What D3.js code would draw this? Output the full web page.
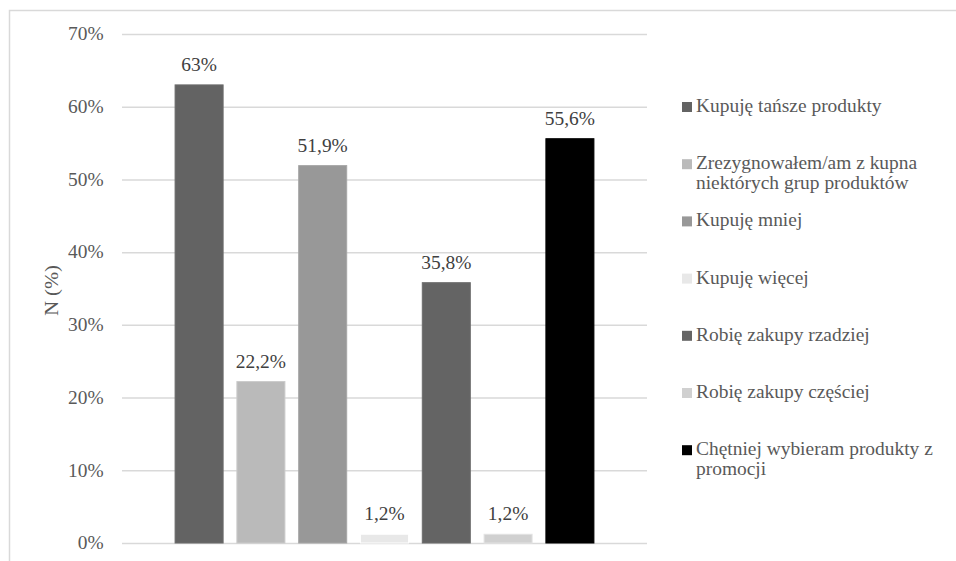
<!DOCTYPE html>
<html>
<head>
<meta charset="utf-8">
<script src="https://cdn.jsdelivr.net/npm/d3@7/dist/d3.min.js"></script>
<style>
  html, body { margin: 0; padding: 0; background: #fff; }
  svg { display: block; }
  svg text { font-family: 'Liberation Serif', Tinos, 'Times New Roman', Times, 'DejaVu Serif', serif !important; fill: #595959; }
</style>
</head>
<body>
<svg id="chart" width="956" height="561"></svg>
<script>
// Survey answers: how shopping habits changed (share of respondents)
const categories = [
  "Kupuję tańsze produkty",
  "Zrezygnowałem/am z kupna niektórych grup produktów",
  "Kupuję mniej",
  "Kupuję więcej",
  "Robię zakupy rzadziej",
  "Robię zakupy częściej",
  "Chętniej wybieram produkty z promocji"
];
const values = [63, 22.2, 51.9, 1.2, 35.8, 1.2, 55.6];
const valueLabels = ["63%", "22,2%", "51,9%", "1,2%", "35,8%", "1,2%", "55,6%"];
const legendLines = [
  ["Kupuję tańsze produkty"],
  ["Zrezygnowałem/am z kupna", "niektórych grup produktów"],
  ["Kupuję mniej"],
  ["Kupuję więcej"],
  ["Robię zakupy rzadziej"],
  ["Robię zakupy częściej"],
  ["Chętniej wybieram produkty z", "promocji"]
];
const colors = ["#636363", "#bababa", "#989898", "#e8e8e8", "#646464", "#d0d0d0", "#000000"];
const yTicks = [0, 10, 20, 30, 40, 50, 60, 70];
const yTickLabels = ["0%", "10%", "20%", "30%", "40%", "50%", "60%", "70%"];

const svg = d3.select("#chart");
const plot = { left: 122, right: 647, top: 34, bottom: 543 };
const stretch = "scale(1.08,1)";

// Outer chart frame (continues past the right and bottom edges)
svg.append("path")
  .attr("d", "M9.5,600 L9.5,10.5 L960,10.5")
  .attr("fill", "none").attr("stroke", "#d9d9d9").attr("stroke-width", 1.5);

const x = d3.scaleBand()
  .domain(d3.range(categories.length))
  .range([plot.left, plot.right])
  .paddingInner(0.223)
  .paddingOuter(0.859);

const y = d3.scaleLinear().domain([0, 70]).range([plot.bottom, plot.top]);

// Horizontal gridlines and y tick labels
const yAxis = d3.axisLeft(y)
  .tickValues(yTicks)
  .tickFormat((d, i) => yTickLabels[i])
  .tickSize(-(plot.right - plot.left))
  .tickPadding(17);

const gy = svg.append("g")
  .attr("transform", `translate(${plot.left},0)`)
  .call(yAxis)
  .attr("font-family", null);
gy.select(".domain").remove();
gy.selectAll(".tick line").attr("stroke", "#d9d9d9").attr("stroke-width", 1.5);
gy.selectAll(".tick text")
  .attr("font-size", 18)
  .attr("fill", "#595959")
  .attr("transform", stretch);

// Y axis title
svg.append("text")
  .attr("transform", `translate(58,${(plot.top + plot.bottom) / 2 + 2}) rotate(-90) ${stretch}`)
  .attr("text-anchor", "middle")
  .attr("font-size", 19)
  .text("N (%)");

// Bars
svg.append("g").selectAll("rect")
  .data(values)
  .join("rect")
  .attr("x", (d, i) => x(i))
  .attr("y", d => y(d))
  .attr("width", x.bandwidth())
  .attr("height", d => y(0) - y(d))
  .attr("fill", (d, i) => colors[i])
  .attr("stroke", (d, i) => d3.color(colors[i]).brighter(0.25))
  .attr("stroke-width", 1);

// Value labels above bars
svg.append("g").selectAll("text")
  .data(values)
  .join("text")
  .attr("transform", (d, i) => `translate(${x(i) + x.bandwidth() / 2},${y(d) - 14}) ${stretch}`)
  .attr("text-anchor", "middle")
  .attr("font-size", 18)
  .style("fill", "#404040")
  .text((d, i) => valueLabels[i]);

// Legend
const legendTop = 112, legendStep = 57.2;
const lg = svg.append("g").selectAll("g")
  .data(categories)
  .join("g")
  .attr("transform", (d, i) => `translate(682,${legendTop + i * legendStep})`);

lg.append("rect")
  .attr("x", 0).attr("y", -10)
  .attr("width", 10).attr("height", 10)
  .attr("fill", (d, i) => colors[i]);

lg.each(function (d, i) {
  const g = d3.select(this);
  legendLines[i].forEach((line, j) => {
    g.append("text")
      .attr("transform", `translate(14,${j * 20}) ${stretch}`)
      .attr("font-size", 18)
      .text(line);
  });
});
</script>
</body>
</html>
